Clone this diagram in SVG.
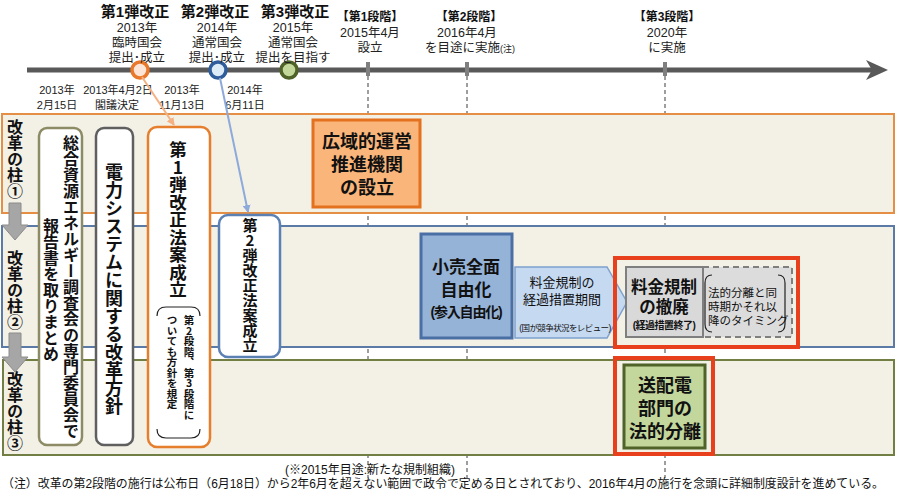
<svg xmlns="http://www.w3.org/2000/svg" width="900" height="501" viewBox="0 0 900 501" lang="ja">
<defs>
<style>
text{font-family:"Liberation Sans","Noto Sans CJK JP",sans-serif;fill:#111;}
.b{font-weight:700;}
.c{text-anchor:middle;}
.v{font-family:"Noto Sans CJK JP",sans-serif;writing-mode:vertical-rl;text-orientation:upright;font-weight:700;}
.lab{font-size:12.5px;text-anchor:middle;fill:#222;}
.dt{font-size:11px;text-anchor:middle;fill:#222;}
.dash{stroke:#7F7F7F;stroke-width:1.5;stroke-dasharray:4 3;fill:none;}
.lane{fill:#F3F0E6;stroke-width:2;}
.vbox{fill:#FFFFFF;stroke-width:2.5;}
</style>
<marker id="ao" markerWidth="8" markerHeight="8" refX="7" refY="4" orient="auto" markerUnits="userSpaceOnUse"><path d="M0,0 L8,4 L0,8 Z" fill="#F4B183"/></marker>
<marker id="ab" markerWidth="8" markerHeight="8" refX="7" refY="4" orient="auto" markerUnits="userSpaceOnUse"><path d="M0,0 L8,4 L0,8 Z" fill="#8EAADB"/></marker>
</defs>
<rect width="900" height="501" fill="#FFFFFF"/>

<!-- dashed milestone guides -->
<g id="guides">
<line class="dash" x1="368" y1="76" x2="368" y2="478"/>
<line class="dash" x1="467" y1="76" x2="467" y2="478"/>
<line class="dash" x1="665" y1="76" x2="665" y2="478"/>
</g>

<!-- timeline -->
<g id="timeline">
<line x1="27" y1="70" x2="874" y2="70" stroke="#595959" stroke-width="5"/>
<polygon points="866,60 888,70 866,80 872,70" fill="#595959"/>
<rect x="366" y="62" width="4" height="14" fill="#7F7F7F"/>
<rect x="465" y="62" width="4" height="14" fill="#7F7F7F"/>
<rect x="663" y="62" width="4" height="14" fill="#7F7F7F"/>
<circle cx="140" cy="70" r="8" fill="#FCE4D6" stroke="#E9782A" stroke-width="3.5"/>
<circle cx="218" cy="70" r="8" fill="#DDEBF7" stroke="#2F5C9A" stroke-width="3.5"/>
<circle cx="289" cy="70" r="8" fill="#C4D79B" stroke="#4F6228" stroke-width="3.5"/>
</g>

<g id="top-labels">
<text class="b c" font-size="15" x="135" y="17">第1弾改正</text>
<text class="lab"><tspan x="137" y="32">2013年</tspan><tspan x="137" y="47">臨時国会</tspan><tspan x="137" y="62">提出･成立</tspan></text>
<text class="b c" font-size="15" x="215" y="17">第2弾改正</text>
<text class="lab"><tspan x="217" y="32">2014年</tspan><tspan x="217" y="47">通常国会</tspan><tspan x="217" y="62">提出･成立</tspan></text>
<text class="b c" font-size="15" x="295" y="17">第3弾改正</text>
<text class="lab"><tspan x="293" y="32">2015年</tspan><tspan x="293" y="47">通常国会</tspan><tspan x="293" y="62">提出を目指す</tspan></text>
<text class="b c" font-size="12" x="370" y="21">【第1段階】</text>
<text class="lab"><tspan x="370" y="37">2015年4月</tspan><tspan x="370" y="52">設立</tspan></text>
<text class="b c" font-size="12" x="469" y="21">【第2段階】</text>
<text class="lab"><tspan x="467" y="37">2016年4月</tspan><tspan x="470" y="52">を目途に実施</tspan><tspan font-size="9">(注)</tspan></text>
<text class="b c" font-size="12" x="667" y="21">【第3段階】</text>
<text class="lab"><tspan x="667" y="37">2020年</tspan><tspan x="667" y="52">に実施</tspan></text>
</g>

<g id="date-labels">
<text class="dt"><tspan x="57" y="94">2013年</tspan><tspan x="57" y="109">2月15日</tspan></text>
<text class="dt"><tspan x="118" y="94">2013年4月2日</tspan><tspan x="117" y="109">閣議決定</tspan></text>
<text class="dt"><tspan x="182" y="94">2013年</tspan><tspan x="182" y="109">11月13日</tspan></text>
<text class="dt"><tspan x="245" y="94">2014年</tspan><tspan x="245" y="109">6月11日</tspan></text>
</g>

<!-- lanes -->
<g id="lane1"><rect class="lane" x="2" y="114" width="892" height="99" stroke="#E48F45"/></g>
<g id="lane2"><rect class="lane" x="2" y="226" width="892" height="121" stroke="#5B7BA6"/></g>
<g id="lane3"><rect class="lane" x="3" y="360" width="891" height="95" stroke="#717F45"/></g>

<g id="pillar-labels">
<text class="v" x="15" y="119" font-size="16">改革の柱①</text>
<text class="v" x="15" y="250" font-size="16">改革の柱②</text>
<text class="v" x="15" y="371" font-size="16">改革の柱③</text>
<path d="M9,203 H21 V225 H28 L15,240 L2,225 H9 Z" fill="#A6A6A6" stroke="#8C8C8C" stroke-width="1"/>
<path d="M9,333 H21 V357 H28 L15,372 L2,357 H9 Z" fill="#A6A6A6" stroke="#8C8C8C" stroke-width="1"/>
</g>

<!-- vertical boxes -->
<g id="box-report">
<rect class="vbox" x="39" y="128" width="43" height="317" rx="8" stroke="#8D8B66"/>
<text class="v" font-size="16"><tspan x="71" y="135">総合資源エネルギー調査会の専門委員会で</tspan><tspan x="51" y="218">報告書を取りまとめ</tspan></text>
</g>
<g id="box-policy">
<rect class="vbox" x="96" y="128" width="37" height="317" rx="8" stroke="#5F5F5F"/>
<text class="v" x="114" y="163" font-size="18">電力システムに関する改革方針</text>
</g>
<g id="box-law1">
<rect class="vbox" x="148" y="127" width="62" height="320" rx="9" stroke="#E57E2D"/>
<text class="v" x="178" y="141" font-size="17.5">第1弾改正法案成立</text>
<path d="M157,316 Q157,307 166,307 L191,307 Q200,307 200,316" fill="none" stroke="#222" stroke-width="1.2"/>
<path d="M157,429 Q157,438 166,438 L191,438 Q200,438 200,429" fill="none" stroke="#222" stroke-width="1.2"/>
<text class="v" font-size="10.5"><tspan x="189" y="315">第2段階、第3段階に</tspan><tspan x="172" y="315">ついても方針を規定</tspan></text>
</g>
<g id="box-law2">
<rect class="vbox" x="219" y="215" width="61" height="142" rx="9" stroke="#5B80B4" stroke-width="2"/>
<text class="v" x="250" y="218" font-size="15">第2弾改正法案成立</text>
</g>

<!-- connectors -->
<g id="connectors">
<line x1="142" y1="77" x2="174" y2="125" stroke="#F4B183" stroke-width="2" marker-end="url(#ao)"/>
<line x1="220" y1="78" x2="248" y2="212" stroke="#8EAADB" stroke-width="2" marker-end="url(#ab)"/>
</g>

<g id="box-oversight">
<rect x="313" y="120" width="107" height="87" fill="#F9B57A" stroke="#E3711E" stroke-width="3"/>
<text class="b c" font-size="18"><tspan x="367" y="148">広域的運営</tspan><tspan x="367" y="171">推進機関</tspan><tspan x="367" y="194">の設立</tspan></text>
</g>

<g id="box-retail">
<rect x="421" y="234" width="91" height="104" fill="#95B3D7" stroke="#4A6FA5" stroke-width="3"/>
<text class="b c" font-size="17"><tspan x="466" y="273">小売全面</tspan><tspan x="466" y="296">自由化</tspan><tspan x="466" y="317" font-size="14" letter-spacing="-1.2">(参入自由化)</tspan></text>
</g>

<g id="box-transition">
<polygon points="515,267 607,267 627,302 607,338 515,338" fill="#C5D9F1" stroke="#7EA1CE" stroke-width="1.5"/>
<text class="c" font-size="13"><tspan x="562" y="287">料金規制の</tspan><tspan x="562" y="304">経過措置期間</tspan><tspan x="565" y="331" font-size="8.5" letter-spacing="-0.6">(国が競争状況をレビュー)</tspan></text>
</g>

<g id="box-abolish">
<rect x="703" y="267" width="89" height="70" fill="#DCDCDC" stroke="#7F7F7F" stroke-width="2" stroke-dasharray="6 4"/>
<rect x="626" y="267" width="77" height="70" fill="#D9D9D9" stroke="#7F7F7F" stroke-width="2"/>
<text class="b c" font-size="16.5"><tspan x="664" y="293">料金規制</tspan><tspan x="664" y="313">の撤廃</tspan><tspan x="664" y="329" font-size="10" letter-spacing="-0.5">(経過措置終了)</tspan></text>
<path d="M712,275 Q705,275 705,283 L705,324 Q705,332 712,332" fill="none" stroke="#222" stroke-width="1.2"/>
<path d="M778,275 Q785,275 785,283 L785,324 Q785,332 778,332" fill="none" stroke="#222" stroke-width="1.2"/>
<text font-size="11.5"><tspan x="708" y="297">法的分離と同</tspan><tspan x="708" y="311">時期かそれ以</tspan><tspan x="708" y="325">降のタイミング</tspan></text>
<rect x="615" y="258" width="183" height="89" fill="none" stroke="#E8401C" stroke-width="4"/>
</g>

<g id="box-unbundling">
<rect x="624" y="365" width="81" height="83" fill="#C3D69B" stroke="#4F6228" stroke-width="3"/>
<text class="b c" font-size="18"><tspan x="665" y="392">送配電</tspan><tspan x="665" y="415">部門の</tspan><tspan x="665" y="438">法的分離</tspan></text>
<rect x="615" y="358" width="98" height="96" fill="none" stroke="#E8401C" stroke-width="4"/>
</g>

<g id="notes">
<text font-size="12" fill="#222" x="285" y="474">(※2015年目途:新たな規制組織)</text>
<text font-size="12" fill="#222" x="2" y="488" textLength="882" lengthAdjust="spacingAndGlyphs">（注）改革の第2段階の施行は公布日（6月18日）から2年6月を超えない範囲で政令で定める日とされており、2016年4月の施行を念頭に詳細制度設計を進めている。</text>
</g>
</svg>
